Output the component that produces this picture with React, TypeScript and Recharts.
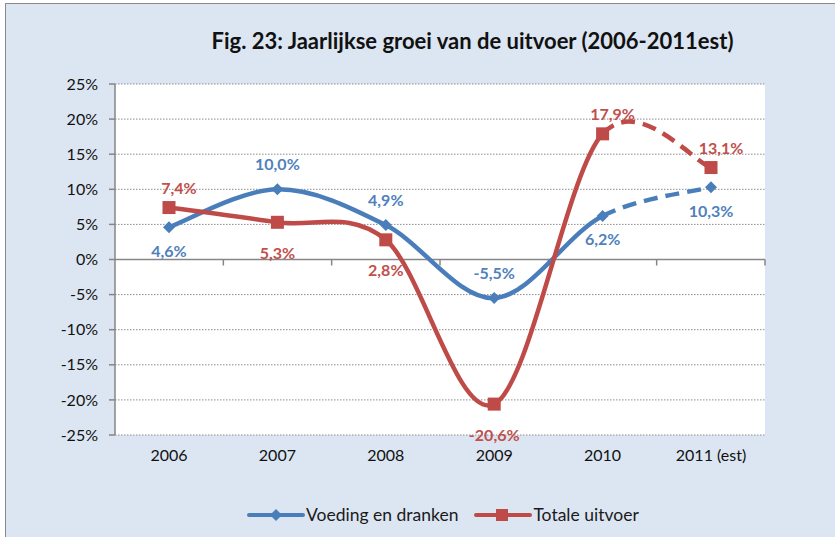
import React from "react";
import {
  LineChart,
  Line,
  XAxis,
  YAxis,
  CartesianGrid,
  ReferenceLine,
  LabelList,
} from "recharts";

const years = ["2006", "2007", "2008", "2009", "2010", "2011 (est)"];
const voeding = [4.6, 10.0, 4.9, -5.5, 6.2, 10.3];
const totaal = [7.4, 5.3, 2.8, -20.6, 17.9, 13.1];
const voedingLabelPos = ["below", "above", "above", "above", "below", "below"];
const totaalLabelPos = ["above", "below", "below", "below", "above", "above"];
const yTicks = [-25, -20, -15, -10, -5, 0, 5, 10, 15, 20, 25];

const BLUE = "#4a7ebb";
const RED = "#be4b48";
const BLUE_TXT = "#4f81bd";
const RED_TXT = "#c0504d";
const FONT = "Lato, 'Open Sans', sans-serif";

const data = years.map((year, i) => ({
  year,
  voeding: voeding[i],
  totaal: totaal[i],
}));

// Excel-style smoothed line, only drawing segments [from, to] but using all points for tangents
function segmentCurve(from: number, to: number) {
  return (context: any) => {
    let pts: number[][] = [];
    return {
      areaStart() {},
      areaEnd() {},
      lineStart() {
        pts = [];
      },
      point(x: number, y: number) {
        pts.push([+x, +y]);
      },
      lineEnd() {
        const n = pts.length;
        if (n < 2) return;
        const end = Math.min(to, n - 1);
        context.moveTo(pts[from][0], pts[from][1]);
        for (let i = from; i < end; i++) {
          const p0 = pts[Math.max(i - 1, 0)];
          const p1 = pts[i];
          const p2 = pts[i + 1];
          const p3 = pts[Math.min(i + 2, n - 1)];
          context.bezierCurveTo(
            p1[0] + (p2[0] - p0[0]) / 6,
            p1[1] + (p2[1] - p0[1]) / 6,
            p2[0] - (p3[0] - p1[0]) / 6,
            p2[1] - (p3[1] - p1[1]) / 6,
            p2[0],
            p2[1]
          );
        }
      },
    };
  };
}

const solidCurve = segmentCurve(0, 4);
const dashCurve = segmentCurve(4, 5);

const fmt = (v: number) => v.toFixed(1).replace(".", ",") + "%";

const Diamond = (props: any) => {
  const { cx, cy } = props;
  if (cx == null || cy == null) return null;
  const r = 6;
  return (
    <path
      d={`M${cx},${cy - r}L${cx + r},${cy}L${cx},${cy + r}L${cx - r},${cy}Z`}
      fill={BLUE}
    />
  );
};

const Square = (props: any) => {
  const { cx, cy } = props;
  if (cx == null || cy == null) return null;
  const s = 6.5;
  return <rect x={cx - s} y={cy - s} width={s * 2} height={s * 2} fill={RED} />;
};

const makeLabel =
  (positions: string[], color: string, above: number, below: number, shiftAbove: number) =>
  (props: any) => {
    const { x, y, value, index } = props;
    const up = positions[index] === "above";
    return (
      <text
        x={x + (up ? shiftAbove : 0)}
        y={y + (up ? above : below)}
        textAnchor="middle"
        dominantBaseline="central"
        fill={color}
        fontFamily={FONT}
        fontWeight={700}
        fontSize={16}
      >
        {fmt(value)}
      </text>
    );
  };

const ZeroAxis = (props: any) => {
  const { x1, x2, y1 } = props;
  const step = Math.abs(x2 - x1) / years.length;
  const lo = Math.min(x1, x2);
  return (
    <g>
      <line x1={x1} x2={x2} y1={y1} y2={y1} stroke="#868686" strokeWidth={1.5} />
      {years.map((_, i) => (
        <line
          key={i}
          x1={lo + step * (i + 1)}
          x2={lo + step * (i + 1)}
          y1={y1}
          y2={y1 + 6}
          stroke="#868686"
          strokeWidth={1.5}
        />
      ))}
    </g>
  );
};

function LegendItem({ color, label, square }: { color: string; label: string; square?: boolean }) {
  return (
    <div style={{ display: "flex", alignItems: "center", marginRight: 16 }}>
      <svg width={58} height={16}>
        <line x1={2} x2={56} y1={8} y2={8} stroke={color} strokeWidth={4} strokeLinecap="round" />
        {square ? (
          <rect x={22} y={2} width={12} height={12} fill={color} />
        ) : (
          <path d="M29,2L35,8L29,14L23,8Z" fill={color} />
        )}
      </svg>
      <span style={{ fontSize: 17.5, color: "#1a1a1a", marginLeft: 1 }}>{label}</span>
    </div>
  );
}

export default function App() {
  return (
    <div style={{ position: "absolute", left: 0, top: 0, width: 835, height: 537, overflow: "hidden", background: "#fff", fontFamily: FONT }}>
      <div
        style={{
          position: "absolute",
          left: 5,
          top: 3,
          width: 840,
          height: 540,
          background: "#dce6f2",
          border: "1.5px solid #8a8a8a",
        }}
      />
      <div
        style={{
          position: "absolute",
          left: 110,
          width: 725,
          top: 27,
          textAlign: "center",
          fontWeight: 700,
          fontSize: 22,
          color: "#111",
        }}
      >
        Fig. 23: Jaarlijkse groei van de uitvoer (2006-2011est)
      </div>
      <div style={{ position: "absolute", left: 0, top: 0 }}>
        <LineChart
          width={835}
          height={537}
          data={data}
          margin={{ top: 84, right: 70, left: 55, bottom: 72 }}
        >
          <CartesianGrid
            vertical={false}
            horizontal
            fill="#ffffff"
            stroke="#8c8c8c"
            strokeDasharray="1.5 1.5"
          />
          <XAxis
            dataKey="year"
            padding={{ left: 54, right: 54 }}
            axisLine={false}
            tickLine={false}
            tickMargin={9}
            height={30}
            interval={0}
            tick={{ fill: "#111", fontSize: 16, fontFamily: FONT }}
          />
          <YAxis
            domain={[-25, 25]}
            ticks={yTicks}
            width={60}
            tickFormatter={(v) => `${v}%`}
            axisLine={{ stroke: "#868686", strokeWidth: 1.5 }}
            tickLine={{ stroke: "#868686", strokeWidth: 1.5 }}
            tickSize={6}
            tickMargin={11}
            interval={0}
            tick={{ fill: "#111", fontSize: 16, fontFamily: FONT }}
          />
          <ReferenceLine y={0} shape={ZeroAxis} />
          <Line
            dataKey="voeding"
            type={dashCurve as any}
            stroke={BLUE}
            strokeWidth={4.5}
            strokeDasharray="14 8"
            dot={false}
            activeDot={false}
            isAnimationActive={false}
          />
          <Line
            dataKey="voeding"
            type={solidCurve as any}
            stroke={BLUE}
            strokeWidth={4.5}
            dot={<Diamond />}
            activeDot={false}
            isAnimationActive={false}
          >
            <LabelList dataKey="voeding" content={makeLabel(voedingLabelPos, BLUE_TXT, -26, 23, 0)} />
          </Line>
          <Line
            dataKey="totaal"
            type={dashCurve as any}
            stroke={RED}
            strokeWidth={4.5}
            strokeDasharray="14 8"
            dot={false}
            activeDot={false}
            isAnimationActive={false}
          />
          <Line
            dataKey="totaal"
            type={solidCurve as any}
            stroke={RED}
            strokeWidth={4.5}
            dot={<Square />}
            activeDot={false}
            isAnimationActive={false}
          >
            <LabelList dataKey="totaal" content={makeLabel(totaalLabelPos, RED_TXT, -20, 30, 10)} />
          </Line>
        </LineChart>
      </div>
      <div
        style={{
          position: "absolute",
          top: 504,
          left: 247,
          display: "flex",
          alignItems: "center",
        }}
      >
        <LegendItem color={BLUE} label="Voeding en dranken" />
        <LegendItem color={RED} label="Totale uitvoer" square />
      </div>
    </div>
  );
}
